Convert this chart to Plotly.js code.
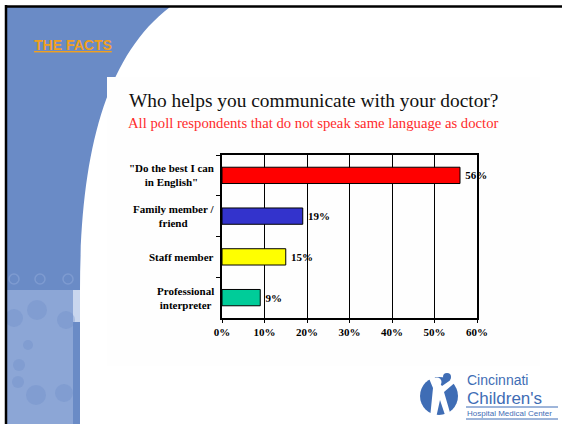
<!DOCTYPE html>
<html>
<head>
<meta charset="utf-8">
<script src="https://cdn.plot.ly/plotly-3.0.1.min.js"></script>
<style>html,body{margin:0;padding:0;background:#fff;}#chart{width:565px;height:424px;}</style>
</head>
<body>
<div id="chart"></div>
<script>
// ---- data ----
var categories = ['"Do the best I can<br>in English"', 'Family member /<br>friend', 'Staff member', 'Professional<br>interpreter'];
var values = [56, 19, 15, 9];
var barColors = ['#FF0000', '#3333CC', '#FFFF00', '#00CC99'];
var xTickVals = [0, 10, 20, 30, 40, 50, 60];
var xTickText = ['0%', '10%', '20%', '30%', '40%', '50%', '60%'];
var titleText = 'Who helps you communicate with your doctor?';
var subtitleText = 'All poll respondents that do not speak same language as doctor';
var headerText = 'THE FACTS';
var logoLines = ['Cincinnati', "Children's", 'Hospital Medical Center'];

// ---- geometry helpers (pixel -> paper) ----
var W = 565, H = 424;
var M = {l: 222, r: 88, t: 155, b: 106};
var PW = W - M.l - M.r, PH = H - M.t - M.b;
function px(x) { return (x - M.l) / PW; }
function py(y) { return (H - M.b - y) / PH; }
function rect(x0, y0, x1, y1, fill, extra) {
  var s = {type: 'rect', xref: 'paper', yref: 'paper', x0: px(x0), x1: px(x1), y0: py(y1), y1: py(y0),
    fillcolor: fill, line: {width: 0}, layer: 'below'};
  if (extra) for (var k in extra) s[k] = extra[k];
  return s;
}
function circ(cx, cy, r, fill, lineColor, lw, layer) {
  return {type: 'circle', xref: 'paper', yref: 'paper', x0: px(cx - r), x1: px(cx + r), y0: py(cy + r), y1: py(cy - r),
    fillcolor: fill, line: {color: lineColor || 'rgba(0,0,0,0)', width: lw || 0}, layer: layer || 'below'};
}
function path(pts, fill, layer) {
  var d = '';
  pts.forEach(function (p) {
    if (typeof p === 'string') { d += p + ' '; }
    else { d += px(p[0]) + ',' + py(p[1]) + ' '; }
  });
  return {type: 'path', xref: 'paper', yref: 'paper', path: d.trim(), fillcolor: fill, line: {width: 0}, layer: layer || 'below'};
}
function line(x0, y0, x1, y1, color, w, layer) {
  return {type: 'line', xref: 'paper', yref: 'paper', x0: px(x0), x1: px(x1), y0: py(y0), y1: py(y1),
    line: {color: color, width: w}, layer: layer || 'above'};
}

var blue = '#6A8BC6', lightBlue = '#8CA6D6', logoBlue = '#3F6DB5';
var shapes = [
  // main blue area with curved edge
  path(['M', [7, 7], 'L', [170, 7], 'C', [103, 58], [80, 160], [80, 290], 'L', [7, 290], 'Z'], blue),
  // lower lighter band
  rect(7, 290, 73, 424, lightBlue),
  rect(73, 290, 80, 424, blue),
  rect(73, 290, 80, 322, '#C9D6EE'),
  // faint decorative circles
  circ(14, 318, 9, 'rgba(110,140,200,0.35)'),
  circ(37, 310, 10, 'rgba(110,140,200,0.35)'),
  circ(66, 320, 9, 'rgba(110,140,200,0.35)'),
  circ(28, 345, 5, 'rgba(110,140,200,0.35)'),
  circ(19, 365, 6, 'rgba(110,140,200,0.35)'),
  circ(18, 382, 6, 'rgba(110,140,200,0.35)'),
  circ(36, 395, 10, 'rgba(110,140,200,0.35)'),
  circ(64, 393, 9, 'rgba(110,140,200,0.35)'),
  // icon band
  circ(14, 279, 5, 'rgba(0,0,0,0)', '#7E9BD0', 1.5),
  circ(40, 279, 5, 'rgba(0,0,0,0)', '#7E9BD0', 1.5),
  circ(68, 279, 5, 'rgba(0,0,0,0)', '#7E9BD0', 1.5),
  // chart panel
  rect(107, 77, 540, 366, '#FEFEFE'),
  // slide frame
  line(5, 6.5, 562, 6.5, '#000', 2.5),
  line(6, 5, 6, 424, '#000', 2.5),
  // logo icon
  circ(439, 396, 19, logoBlue, null, 0, 'above'),
  circ(437, 382, 4.5, '#FFFFFF', null, 0, 'above'),
  path(['M', [428, 376], 'L', [433, 388], 'L', [430, 418], 'L', [436, 418], 'L', [440, 400], 'L', [446, 418], 'L', [451, 416], 'L', [444, 392], 'L', [458, 380], 'L', [455, 377], 'L', [442, 386], 'L', [432, 374], 'Z'], '#FFFFFF', 'above'),
  circ(447, 377, 4, logoBlue, null, 0, 'above'),
  line(466, 407, 558, 407, logoBlue, 1),
  line(466, 419, 558, 419, logoBlue, 1)
];

var serif = 'Liberation Serif, Times New Roman, serif';
var annotations = [];
categories.forEach(function (c) {
  annotations.push({text: '<b>' + c + '</b>', xref: 'paper', yref: 'y', x: 0, y: c, xanchor: 'right', xshift: -6,
    yanchor: 'middle', align: 'center', showarrow: false, font: {family: serif, size: 11, color: '#000'}});
});
annotations.push({text: titleText, xref: 'paper', yref: 'paper', x: px(313), y: py(101), xanchor: 'center', yanchor: 'middle',
  showarrow: false, font: {family: serif, size: 19.4, color: '#111'}});
annotations.push({text: subtitleText, xref: 'paper', yref: 'paper', x: px(313), y: py(123), xanchor: 'center', yanchor: 'middle',
  showarrow: false, font: {family: serif, size: 14.7, color: '#FF2B2B'}});
annotations.push({text: '<b><u>' + headerText + '</u></b>', xref: 'paper', yref: 'paper', x: px(32), y: py(45), xanchor: 'left', yanchor: 'middle',
  showarrow: false, font: {family: 'Liberation Sans, Arial, sans-serif', size: 14, color: '#F0A020'}});
annotations.push({text: logoLines[0], xref: 'paper', yref: 'paper', x: px(466), y: py(380), xanchor: 'left', yanchor: 'middle',
  showarrow: false, borderpad: 0, font: {family: 'Liberation Sans, Arial, sans-serif', size: 14, color: logoBlue}});
annotations.push({text: logoLines[1], xref: 'paper', yref: 'paper', x: px(466), y: py(398), xanchor: 'left', yanchor: 'middle',
  showarrow: false, borderpad: 0, font: {family: 'Liberation Sans, Arial, sans-serif', size: 17, color: logoBlue}});
annotations.push({text: logoLines[2], xref: 'paper', yref: 'paper', x: px(466), y: py(413.5), xanchor: 'left', yanchor: 'middle',
  showarrow: false, borderpad: 0, font: {family: 'Liberation Sans, Arial, sans-serif', size: 8, color: logoBlue}});

var trace = {
  type: 'bar', orientation: 'h',
  x: values, y: categories,
  marker: {color: barColors, line: {color: '#000', width: 1}},
  text: values.map(function (v) { return '<b>\u2009' + v + '%</b>'; }),
  textposition: 'outside', cliponaxis: false, constraintext: 'none',
  textfont: {family: serif, size: 11, color: '#000'},
  hoverinfo: 'none'
};

var layout = {
  width: W, height: H,
  margin: M,
  paper_bgcolor: '#FFFFFF', plot_bgcolor: 'rgba(0,0,0,0)',
  showlegend: false,
  bargap: 0.6,
  xaxis: {
    range: [0, 60], tickvals: xTickVals, ticktext: xTickText,
    showgrid: true, gridcolor: '#000', gridwidth: 1,
    showline: true, linecolor: '#000', linewidth: 2, mirror: true,
    ticks: 'outside', ticklen: 3, tickcolor: '#000',
    tickfont: {family: serif, size: 11, color: '#000', weight: 'bold'},
    zeroline: false, fixedrange: true
  },
  yaxis: {
    type: 'category', autorange: 'reversed',
    showticklabels: false, tickson: 'boundaries', ticks: 'outside', ticklen: 4, tickcolor: '#000',
    showline: true, linecolor: '#000', linewidth: 2, mirror: true,
    showgrid: false, zeroline: false, fixedrange: true
  },
  shapes: shapes,
  annotations: annotations
};

Plotly.newPlot('chart', [trace], layout, {displayModeBar: false, staticPlot: true});
</script>
</body>
</html>
